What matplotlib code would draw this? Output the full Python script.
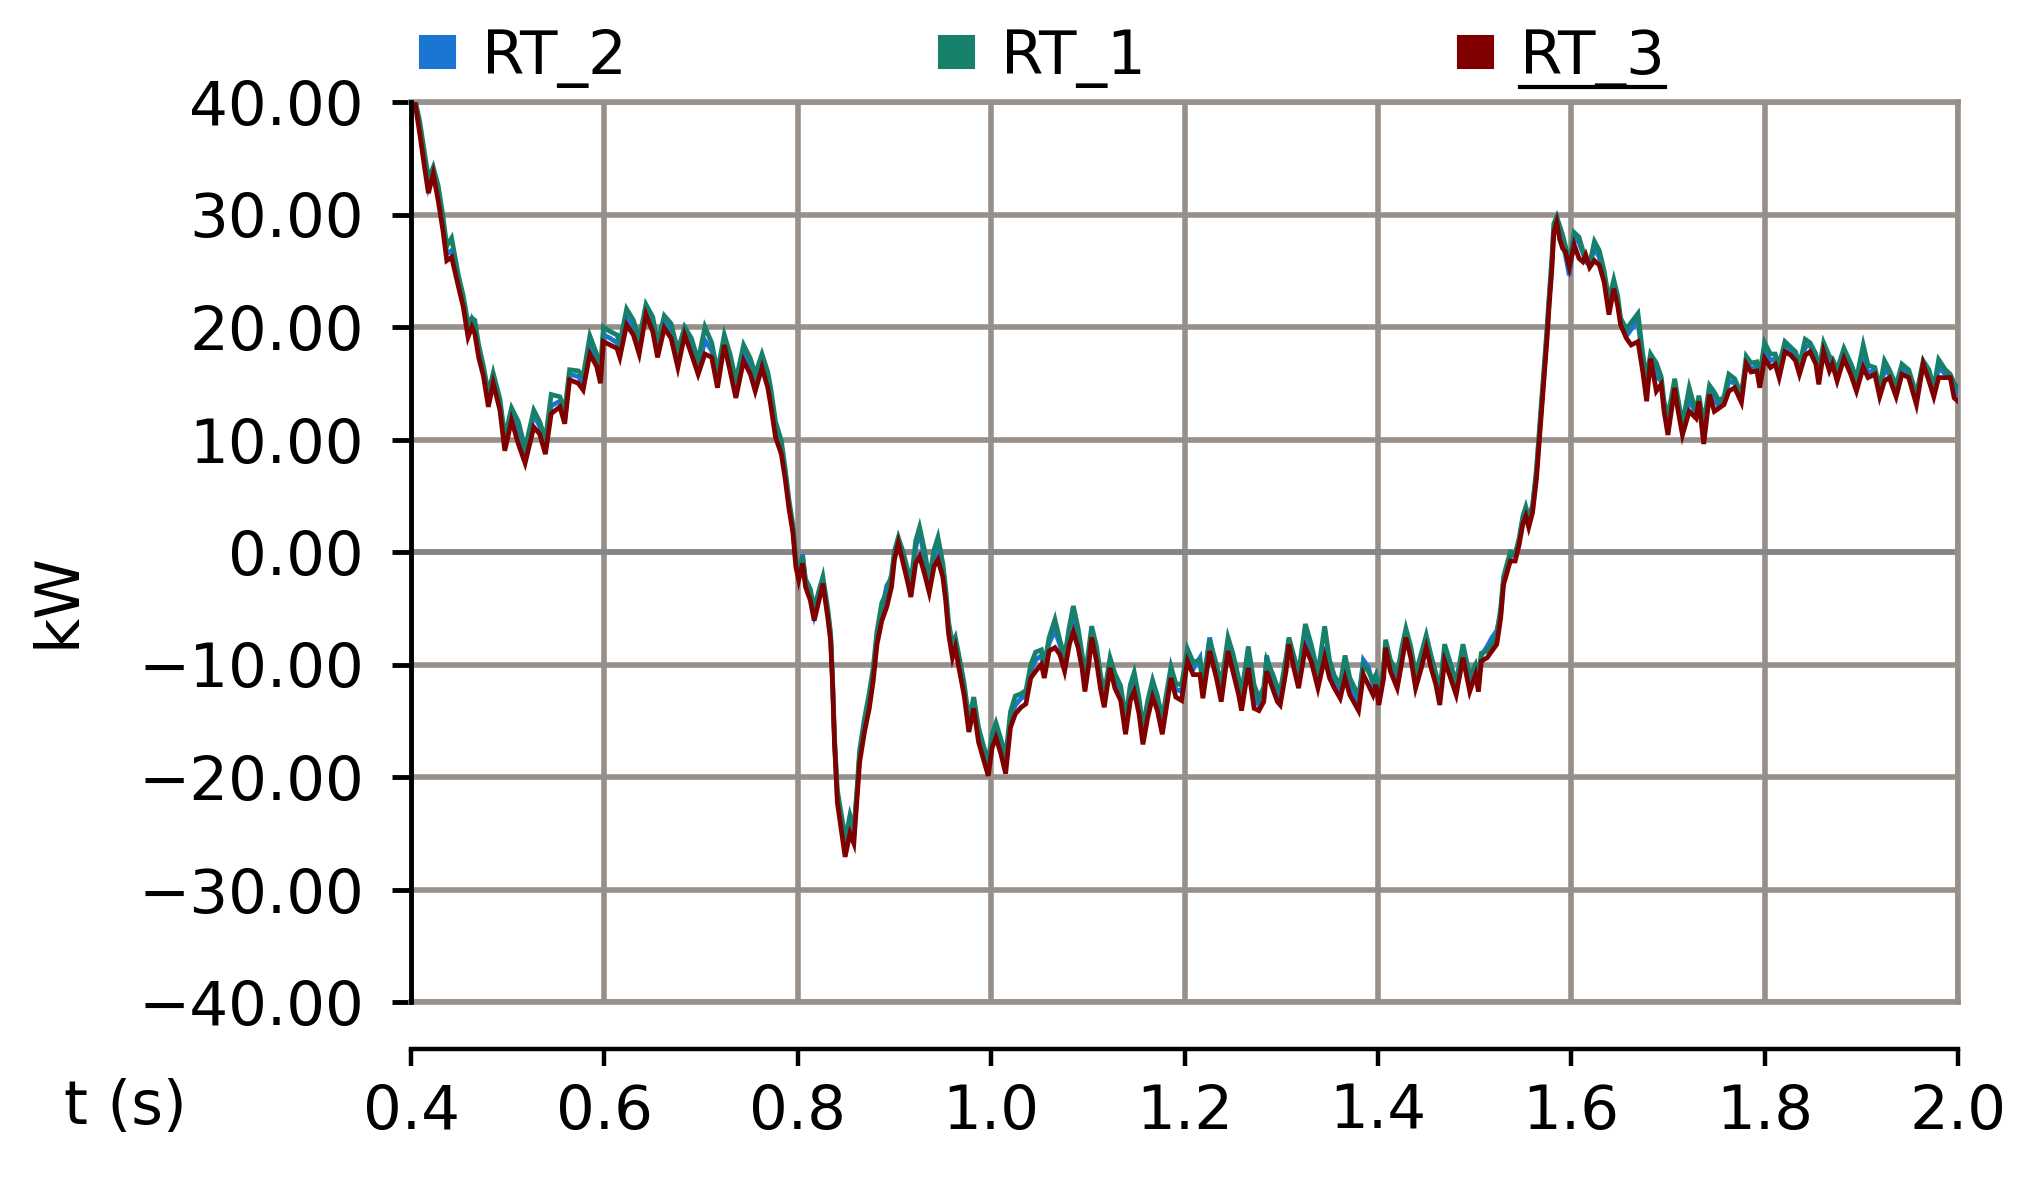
#!/usr/bin/env python

"""
Active power of the three RT units against time, read off a scope-style plot.
"""

import matplotlib
matplotlib.use('Agg')
import matplotlib.pyplot as plt
from matplotlib.patches import Patch
from matplotlib.lines import Line2D
from matplotlib.ticker import FuncFormatter

# time axis (s), shared by the three traces
T = [
    0.400, 0.404, 0.409, 0.414, 0.418, 0.423, 0.428, 0.433, 0.437, 0.442,
    0.449, 0.454, 0.459, 0.463, 0.466, 0.470, 0.475, 0.480, 0.485, 0.492,
    0.497, 0.504, 0.511, 0.518, 0.527, 0.533, 0.539, 0.545, 0.554, 0.559,
    0.564, 0.573, 0.578, 0.585, 0.592, 0.596, 0.599, 0.606, 0.613, 0.616,
    0.623, 0.630, 0.636, 0.643, 0.650, 0.655, 0.662, 0.669, 0.676, 0.683,
    0.690, 0.697, 0.704, 0.711, 0.717, 0.724, 0.730, 0.736, 0.744, 0.751,
    0.756, 0.763, 0.769, 0.772, 0.777, 0.783, 0.787, 0.791, 0.795, 0.798,
    0.801, 0.805, 0.808, 0.813, 0.817, 0.822, 0.826, 0.831, 0.834, 0.836,
    0.838, 0.841, 0.846, 0.849, 0.854, 0.858, 0.861, 0.864, 0.869, 0.874,
    0.878, 0.882, 0.887, 0.892, 0.897, 0.900, 0.904, 0.909, 0.914, 0.917,
    0.922, 0.926, 0.931, 0.936, 0.941, 0.945, 0.950, 0.953, 0.956, 0.960,
    0.963, 0.966, 0.972, 0.977, 0.982, 0.987, 0.992, 0.997, 1.001, 1.005,
    1.010, 1.015, 1.020, 1.025, 1.031, 1.036, 1.041, 1.046, 1.052, 1.055,
    1.060, 1.066, 1.071, 1.076, 1.081, 1.085, 1.090, 1.094, 1.097, 1.101,
    1.104, 1.109, 1.113, 1.117, 1.123, 1.128, 1.134, 1.139, 1.144, 1.148,
    1.153, 1.157, 1.162, 1.167, 1.172, 1.177, 1.183, 1.186, 1.191, 1.197,
    1.203, 1.209, 1.216, 1.219, 1.226, 1.233, 1.238, 1.245, 1.250, 1.256,
    1.259, 1.266, 1.272, 1.277, 1.282, 1.285, 1.291, 1.296, 1.299, 1.305,
    1.308, 1.313, 1.318, 1.325, 1.331, 1.338, 1.345, 1.350, 1.355, 1.361,
    1.366, 1.371, 1.380, 1.385, 1.390, 1.395, 1.398, 1.401, 1.406, 1.408,
    1.413, 1.420, 1.425, 1.429, 1.434, 1.439, 1.445, 1.450, 1.455, 1.460,
    1.464, 1.469, 1.474, 1.481, 1.488, 1.495, 1.501, 1.504, 1.507, 1.513,
    1.518, 1.523, 1.527, 1.530, 1.534, 1.537, 1.542, 1.546, 1.550, 1.553,
    1.556, 1.560, 1.564, 1.568, 1.572, 1.575, 1.577, 1.580, 1.582, 1.585,
    1.588, 1.591, 1.594, 1.598, 1.603, 1.608, 1.612, 1.615, 1.619, 1.624,
    1.629, 1.634, 1.639, 1.644, 1.648, 1.651, 1.657, 1.662, 1.669, 1.674,
    1.678, 1.682, 1.688, 1.693, 1.696, 1.700, 1.707, 1.710, 1.715, 1.722,
    1.729, 1.732, 1.737, 1.743, 1.748, 1.753, 1.758, 1.763, 1.769, 1.776,
    1.781, 1.786, 1.792, 1.795, 1.800, 1.806, 1.811, 1.815, 1.821, 1.827,
    1.832, 1.836, 1.842, 1.847, 1.853, 1.856, 1.861, 1.867, 1.870, 1.875,
    1.882, 1.889, 1.895, 1.902, 1.907, 1.914, 1.919, 1.924, 1.929, 1.936,
    1.942, 1.949, 1.957, 1.964, 1.970, 1.975, 1.980, 1.987, 1.992, 1.996,
    2.000,
]

# RT_3 power (kW)
RT_3 = [
    40.5, 40.0, 37.2, 34.2, 31.9, 33.6, 31.3, 28.6, 25.9, 26.2,
    23.6, 21.8, 19.1, 20.0, 19.4, 17.3, 15.6, 12.9, 15.0, 12.6,
    9.0, 11.7, 9.6, 7.9, 11.1, 10.5, 8.7, 12.3, 12.9, 11.4,
    15.3, 15.0, 14.4, 17.6, 16.5, 15.0, 18.7, 18.4, 18.1, 17.3,
    20.2, 19.3, 17.6, 21.1, 19.6, 17.3, 19.9, 19.0, 16.4, 19.3,
    17.6, 15.8, 17.6, 17.3, 14.6, 18.4, 16.1, 13.7, 17.0, 15.8,
    14.3, 16.4, 14.6, 13.1, 10.2, 8.7, 6.5, 3.8, 1.7, -1.3,
    -2.5, -1.0, -3.1, -4.3, -6.1, -4.3, -2.8, -5.8, -7.9, -11.8,
    -17.0, -22.3, -25.3, -27.1, -25.0, -25.9, -22.3, -18.7, -16.0, -13.9,
    -11.5, -8.2, -6.1, -4.9, -3.1, -0.7, 0.8, -1.0, -2.8, -4.0,
    -1.0, -0.4, -1.9, -3.6, -1.3, -0.7, -2.2, -4.3, -7.3, -9.4,
    -8.5, -10.0, -12.7, -16.0, -13.9, -16.9, -18.4, -19.9, -17.4, -16.5,
    -17.9, -19.7, -15.6, -14.4, -13.8, -13.5, -11.2, -10.6, -10.0, -11.2,
    -8.8, -8.5, -9.1, -10.6, -8.2, -7.1, -8.5, -10.3, -12.4, -10.0,
    -7.6, -9.7, -12.1, -13.8, -10.3, -12.1, -13.2, -16.2, -13.2, -12.4,
    -14.4, -17.1, -14.7, -12.9, -14.1, -16.2, -12.9, -11.2, -12.9, -13.2,
    -9.7, -10.9, -10.9, -13.0, -8.8, -11.2, -13.3, -8.8, -10.6, -12.7,
    -14.1, -10.3, -13.9, -14.1, -13.3, -10.6, -12.1, -13.3, -13.6, -10.6,
    -8.2, -10.3, -12.1, -8.5, -9.7, -12.1, -9.4, -11.2, -12.1, -13.0,
    -11.2, -12.7, -14.1, -10.9, -11.8, -12.7, -11.8, -13.6, -11.2, -8.5,
    -10.6, -12.1, -9.7, -7.6, -9.4, -12.1, -10.3, -8.5, -10.3, -11.8,
    -13.6, -9.7, -10.9, -12.7, -9.4, -12.4, -10.9, -12.4, -9.7, -9.4,
    -8.8, -8.2, -5.9, -2.9, -1.7, -0.8, -0.8, 0.6, 2.5, 3.2,
    2.2, 3.5, 6.5, 11.0, 15.5, 19.0, 21.7, 25.2, 28.4, 29.3,
    27.8, 27.0, 26.7, 25.3, 27.3, 26.1, 25.8, 26.4, 25.3, 25.9,
    25.5, 24.0, 21.1, 23.4, 21.9, 20.2, 19.0, 18.4, 18.7, 16.0,
    13.4, 17.2, 14.3, 14.9, 12.5, 10.4, 14.6, 12.8, 10.4, 12.5,
    11.9, 13.4, 9.6, 14.0, 12.5, 12.8, 13.1, 14.3, 14.6, 13.3,
    16.7, 16.0, 16.1, 14.6, 17.2, 16.4, 16.7, 15.5, 17.8, 17.5,
    17.0, 15.8, 17.5, 17.8, 16.7, 14.9, 17.8, 16.1, 16.7, 15.2,
    17.2, 15.8, 14.3, 16.4, 15.5, 15.8, 13.8, 15.2, 15.5, 13.8,
    15.8, 15.5, 13.1, 16.7, 15.2, 13.8, 15.5, 15.5, 15.5, 13.7,
    13.4,
]

# RT_1 power (kW)
RT_1 = [
    40.5, 40.3, 38.3, 35.5, 33.2, 34.2, 32.6, 29.9, 27.2, 27.9,
    24.6, 22.8, 20.3, 20.8, 20.6, 18.4, 16.5, 14.1, 15.9, 13.6,
    10.2, 12.8, 11.6, 9.2, 12.6, 11.6, 10.0, 14.0, 13.8, 12.6,
    16.2, 16.1, 15.6, 19.2, 17.6, 16.3, 20.0, 19.6, 19.3, 18.6,
    21.6, 20.6, 18.9, 22.0, 20.9, 18.6, 21.0, 20.3, 17.9, 20.0,
    19.0, 17.0, 20.0, 18.6, 16.0, 19.3, 17.6, 15.2, 18.4, 17.2,
    15.8, 17.6, 16.0, 14.6, 11.6, 9.9, 7.4, 4.6, 2.4, -0.6,
    -1.8, -0.4, -2.4, -3.3, -5.0, -3.4, -2.2, -5.0, -7.2, -11.2,
    -16.5, -21.2, -23.8, -25.6, -23.4, -24.6, -21.4, -17.6, -14.8, -12.5,
    -10.3, -7.0, -4.5, -3.6, -2.0, 0.1, 1.3, 0.0, -1.7, -2.8,
    1.0, 2.2, 0.2, -2.4, 0.2, 1.3, -1.0, -3.2, -6.2, -8.2,
    -7.6, -8.9, -11.6, -14.9, -12.9, -15.6, -17.2, -18.6, -16.2, -15.2,
    -16.6, -18.2, -14.2, -12.8, -12.6, -12.3, -10.0, -8.9, -8.7, -10.0,
    -7.6, -6.0, -7.8, -9.3, -6.6, -4.8, -6.8, -9.0, -11.2, -8.6,
    -6.6, -8.4, -10.8, -12.6, -9.4, -10.8, -11.9, -14.8, -11.8, -10.7,
    -13.0, -15.6, -13.2, -11.4, -12.8, -14.8, -11.7, -10.2, -11.7, -11.8,
    -8.6, -9.8, -9.6, -11.8, -7.8, -10.0, -11.8, -7.6, -9.0, -11.2,
    -12.6, -8.4, -11.8, -13.0, -12.0, -9.6, -10.8, -12.0, -12.4, -9.4,
    -7.6, -9.2, -10.8, -6.4, -8.2, -10.8, -6.6, -9.6, -11.0, -11.8,
    -9.2, -11.2, -12.8, -10.0, -10.6, -11.4, -10.9, -12.4, -10.2, -7.8,
    -9.6, -10.8, -8.4, -6.8, -8.4, -10.8, -9.0, -7.4, -9.2, -10.8,
    -12.4, -8.2, -9.6, -11.6, -8.2, -11.0, -10.0, -11.2, -9.0, -8.8,
    -8.2, -7.4, -5.0, -2.2, -0.9, 0.0, -0.2, 1.2, 3.2, 4.0,
    3.0, 4.2, 7.4, 12.0, 16.5, 20.0, 22.6, 26.2, 29.2, 29.8,
    29.0, 28.2, 27.2, 25.8, 28.4, 28.0, 26.8, 26.2, 25.6, 27.6,
    26.8, 25.0, 22.4, 24.2, 22.8, 20.8, 19.8, 20.4, 21.2, 17.6,
    15.4, 17.6, 16.8, 15.6, 13.4, 12.0, 15.4, 13.8, 11.4, 14.6,
    12.4, 13.9, 11.4, 14.8, 14.2, 13.4, 13.8, 15.8, 15.4, 14.0,
    17.4, 16.8, 16.9, 15.8, 18.6, 17.6, 17.6, 16.6, 18.7, 18.2,
    17.8, 16.6, 18.9, 18.6, 17.6, 16.0, 18.6, 17.4, 17.2, 16.2,
    18.1, 16.8, 15.4, 18.4, 16.6, 16.4, 14.6, 17.0, 16.2, 14.8,
    16.7, 16.2, 14.0, 17.0, 16.2, 14.6, 17.1, 16.2, 15.8, 15.0,
    14.6,
]

# RT_2 power (kW)
RT_2 = [
    40.5, 40.2, 37.8, 34.8, 32.5, 34.0, 32.0, 29.3, 26.5, 26.8,
    24.1, 22.4, 19.4, 20.6, 19.9, 17.9, 16.0, 13.5, 15.4, 13.2,
    9.6, 12.4, 10.6, 8.6, 12.2, 11.2, 9.4, 13.0, 13.4, 11.8,
    15.8, 15.6, 14.9, 18.2, 17.0, 15.6, 19.3, 19.0, 18.6, 17.8,
    20.8, 19.9, 18.2, 21.5, 20.2, 17.9, 20.4, 19.6, 17.0, 19.7,
    18.4, 16.3, 18.8, 17.9, 15.2, 19.0, 16.7, 14.3, 17.6, 16.3,
    15.0, 17.0, 15.2, 13.7, 10.8, 9.2, 7.0, 4.2, 2.1, -0.9,
    -2.0, -0.2, -2.7, -3.8, -5.6, -3.9, -2.5, -5.4, -7.6, -11.5,
    -16.8, -21.8, -24.6, -26.2, -24.2, -25.3, -21.8, -18.0, -15.3, -13.2,
    -10.8, -7.4, -5.2, -3.0, -2.3, -0.2, 1.1, -0.5, -2.2, -3.4,
    0.4, 2.0, -0.6, -2.9, -0.6, 0.4, -1.5, -3.8, -6.8, -8.6,
    -7.9, -9.3, -12.0, -15.3, -13.1, -16.3, -17.8, -19.3, -16.8, -15.8,
    -17.2, -19.0, -14.9, -13.6, -13.0, -12.8, -10.6, -9.6, -9.2, -10.5,
    -8.1, -7.0, -8.2, -9.8, -6.7, -6.0, -7.6, -9.5, -11.7, -9.2,
    -7.1, -9.0, -11.4, -13.1, -9.8, -11.4, -12.5, -15.5, -12.5, -11.6,
    -13.6, -16.4, -13.9, -12.1, -13.4, -15.4, -12.2, -10.6, -12.2, -12.4,
    -8.9, -10.4, -9.4, -12.3, -7.6, -10.6, -12.6, -8.0, -9.6, -12.0,
    -13.4, -9.6, -13.0, -13.6, -12.8, -9.2, -11.3, -12.8, -13.0, -9.8,
    -7.8, -9.6, -11.4, -7.6, -9.0, -11.5, -8.4, -10.6, -11.6, -12.6,
    -9.8, -11.8, -13.4, -9.6, -10.2, -11.8, -11.2, -13.0, -10.6, -8.1,
    -10.0, -11.4, -9.2, -7.2, -8.9, -11.6, -9.8, -8.0, -9.8, -11.4,
    -13.0, -9.0, -10.2, -12.0, -8.8, -11.8, -10.4, -11.9, -9.2, -8.4,
    -7.6, -7.0, -5.4, -2.5, -1.2, -0.4, -0.2, 0.9, 2.9, 3.6,
    2.6, 3.9, 7.0, 11.6, 16.0, 19.5, 22.2, 25.7, 28.8, 29.6,
    28.6, 27.6, 26.4, 24.6, 28.0, 27.5, 26.6, 25.8, 25.5, 27.0,
    26.2, 24.6, 21.8, 23.9, 22.2, 20.6, 19.2, 19.8, 20.6, 16.8,
    14.8, 17.4, 15.6, 15.2, 12.9, 11.4, 15.0, 13.2, 10.8, 13.6,
    12.2, 13.6, 10.6, 14.4, 13.6, 12.9, 13.5, 15.2, 15.0, 13.8,
    17.0, 16.2, 16.6, 15.2, 18.0, 17.0, 17.2, 16.0, 18.2, 17.9,
    17.4, 16.2, 18.2, 18.4, 17.2, 15.4, 18.2, 16.6, 17.0, 15.6,
    17.6, 16.2, 14.8, 17.4, 15.9, 16.2, 14.2, 16.2, 15.8, 14.2,
    16.2, 15.8, 13.6, 16.8, 15.6, 14.2, 16.4, 15.8, 15.6, 14.4,
    14.0,
]

NAMES = ['RT_2', 'RT_1', 'RT_3']
COLORS = ['#1b75d2', '#17806a', '#800000']
X_TICKS = [0.4, 0.6, 0.8, 1.0, 1.2, 1.4, 1.6, 1.8, 2.0]
Y_TICKS = [-40, -30, -20, -10, 0, 10, 20, 30, 40]

W, H, DPI = 2019, 1181, 100
GRID = '#968f8a'
FS = 44


def y_fmt(val, pos):
    """ two decimals with a real minus sign """
    return ('%.2f' % val).replace('-', '\u2212')


def main():
    """ main body """
    plt.rcParams['font.family'] = ['DejaVu Sans']
    fig = plt.figure(figsize=(W / DPI, H / DPI), dpi=DPI)
    ax = fig.add_axes([411 / W, 1 - 1002 / H, (1958 - 411) / W, 900 / H])

    # traces, red on top
    for vals, name, col in zip([RT_2, RT_1, RT_3], NAMES, COLORS):
        ax.plot(T, vals, color=col, lw=3.4, label=name, zorder=3,
                solid_joinstyle='miter')

    ax.set_xlim(0.4, 2.0)
    ax.set_ylim(-40, 40)
    ax.set_xticks(X_TICKS)
    ax.set_yticks(Y_TICKS)
    ax.xaxis.set_major_formatter(FuncFormatter(lambda v, p: '%.1f' % v))
    ax.yaxis.set_major_formatter(FuncFormatter(y_fmt))

    # grid
    ax.grid(True, color=GRID, lw=4, zorder=0)
    ax.axhline(0, color='#858585', lw=4, zorder=1)
    ax.axhline(-40, color=GRID, lw=4, zorder=1, clip_on=False)
    ax.axhline(40, color=GRID, lw=4, zorder=1, clip_on=False)
    ax.axvline(2.0, color=GRID, lw=4, zorder=1, clip_on=False)
    ax.set_axisbelow(True)

    # spines
    for side in ['top', 'right']:
        ax.spines[side].set_visible(False)
    ax.spines['left'].set_linewidth(3.5)
    ax.spines['left'].set_zorder(4)
    ax.spines['bottom'].set_linewidth(3.2)
    ax.spines['bottom'].set_position(('outward', 34))

    ax.tick_params(axis='y', direction='out', length=14, width=3.5,
                   pad=20, labelsize=FS)
    ax.tick_params(axis='x', direction='out', length=12, width=3.2,
                   pad=12, labelsize=FS)

    fig.text(125 / W, 1 - 1107 / H, 't (s)', fontsize=FS,
             ha='center', va='center')
    fig.text(58 / W, 1 - 600 / H, 'kW', fontsize=FS, rotation=90,
             ha='center', va='center')

    # legend along the top
    handles = [Patch(facecolor=c, edgecolor=c, lw=1.5, joinstyle='round')
               for c in COLORS]
    leg = fig.legend(handles, NAMES, loc='center left',
                     bbox_to_anchor=(420 / W, 1 - 58 / H), ncol=3,
                     frameon=False, fontsize=FS, borderpad=0,
                     borderaxespad=0, handlelength=0.57, handleheight=0.44,
                     handletextpad=0.45, columnspacing=5.1)

    # RT_3 is shown underlined
    fig.canvas.draw()
    bb = leg.get_texts()[2].get_window_extent()
    y_u = 1 - 87 / H
    fig.add_artist(Line2D([bb.x0 / W, bb.x1 / W], [y_u, y_u],
                          color='black', lw=3, transform=fig.transFigure))

    fig.savefig('out.png', dpi=DPI)


if __name__ == "__main__":
    main()
